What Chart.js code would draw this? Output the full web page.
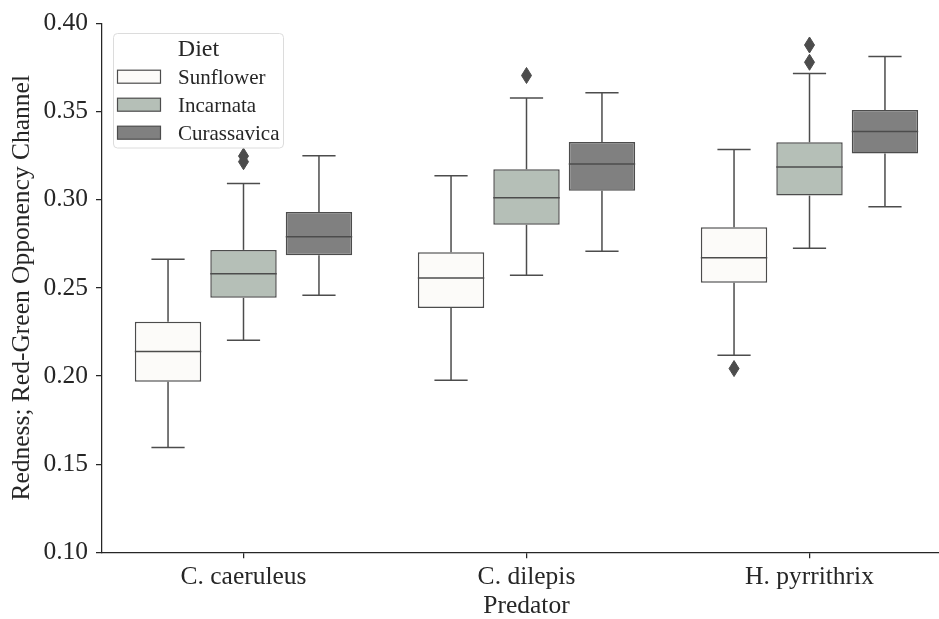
<!DOCTYPE html>
<html>
<head>
<meta charset="utf-8">
<script src="https://cdn.jsdelivr.net/npm/chart.js@4.4.1/dist/chart.umd.min.js"></script>
<style>
  html, body { margin: 0; padding: 0; background: #ffffff; overflow: hidden; }
  #wrap { position: relative; width: 951px; height: 619px; }
</style>
</head>
<body>
<div id="wrap"><canvas id="c" width="951" height="619"></canvas></div>
<script>
// ---- data ----
const categories = ['C. caeruleus', 'C. dilepis', 'H. pyrrithrix'];
const diets = ['Sunflower', 'Incarnata', 'Curassavica'];
const yTicks = [0.10, 0.15, 0.20, 0.25, 0.30, 0.35, 0.40];

const sunflowerLow  = [0.1595, 0.1976, 0.2118];
const sunflowerQ1   = [0.1967, 0.2386, 0.2528];
const sunflowerMed  = [0.2139, 0.2556, 0.2671];
const sunflowerQ3   = [0.2307, 0.2701, 0.2843];
const sunflowerHigh = [0.2662, 0.3136, 0.3285];
const sunflowerOut  = [[], [], [0.2042]];

const incarnataLow  = [0.2203, 0.2571, 0.2724];
const incarnataQ1   = [0.2443, 0.2857, 0.3023];
const incarnataMed  = [0.2579, 0.3011, 0.3185];
const incarnataQ3   = [0.2715, 0.3172, 0.3325];
const incarnataHigh = [0.3091, 0.3576, 0.3716];
const incarnataOut  = [[0.3247, 0.3215], [0.3704], [0.3877, 0.3779]];

const curassavicaLow  = [0.2458, 0.2707, 0.2960];
const curassavicaQ1   = [0.2684, 0.3051, 0.3262];
const curassavicaMed  = [0.2789, 0.3202, 0.3387];
const curassavicaQ3   = [0.2930, 0.3327, 0.3508];
const curassavicaHigh = [0.3249, 0.3606, 0.3812];
const curassavicaOut  = [[], [], []];

// ---- styling ----
const fills = ['#fcfbf9', '#b5bfb7', '#808080'];
const lineGray = '#4c4c4c';
const textColor = '#262626';
const FONT = '"Liberation Serif", "Times New Roman", "DejaVu Serif", serif';

const stats = [
  {low: sunflowerLow, q1: sunflowerQ1, med: sunflowerMed, q3: sunflowerQ3, high: sunflowerHigh, out: sunflowerOut},
  {low: incarnataLow, q1: incarnataQ1, med: incarnataMed, q3: incarnataQ3, high: incarnataHigh, out: incarnataOut},
  {low: curassavicaLow, q1: curassavicaQ1, med: curassavicaMed, q3: curassavicaQ3, high: curassavicaHigh, out: curassavicaOut}
];

const datasets = diets.map((d, di) => ({
  label: d,
  data: categories.map((c, i) => [stats[di].q1[i], stats[di].q3[i]]),
  backgroundColor: fills[di],
  borderColor: lineGray,
  borderWidth: 1.5,
  borderSkipped: false,
  categoryPercentage: 0.8,
  barPercentage: 0.88
}));

function seg(ctx, x1, y1, x2, y2) {
  ctx.beginPath(); ctx.moveTo(x1, y1); ctx.lineTo(x2, y2); ctx.stroke();
}

const boxPlugin = {
  id: 'boxWhiskers',
  afterDatasetsDraw(chart) {
    const ctx = chart.ctx, ys = chart.scales.y;
    ctx.save();
    chart.data.datasets.forEach((ds, di) => {
      const meta = chart.getDatasetMeta(di);
      const s = stats[di];
      meta.data.forEach((bar, i) => {
        const x = bar.x, w = bar.width;
        const pQ1 = ys.getPixelForValue(s.q1[i]);
        const pQ3 = ys.getPixelForValue(s.q3[i]);
        const pLo = ys.getPixelForValue(s.low[i]);
        const pHi = ys.getPixelForValue(s.high[i]);
        const pMed = ys.getPixelForValue(s.med[i]);
        ctx.strokeStyle = lineGray;
        ctx.lineWidth = 1.5;
        seg(ctx, x, pQ3, x, pHi);
        seg(ctx, x, pQ1, x, pLo);
        seg(ctx, x - w / 4, pHi, x + w / 4, pHi);
        seg(ctx, x - w / 4, pLo, x + w / 4, pLo);
        seg(ctx, x - w / 2, pMed, x + w / 2, pMed);
        ctx.fillStyle = lineGray;
        s.out[i].forEach(v => {
          const py = ys.getPixelForValue(v);
          ctx.beginPath();
          ctx.moveTo(x, py - 8);
          ctx.lineTo(x + 5, py);
          ctx.lineTo(x, py + 8);
          ctx.lineTo(x - 5, py);
          ctx.closePath();
          ctx.fill();
          ctx.lineWidth = 1;
          ctx.stroke();
        });
      });
    });
    ctx.restore();
  }
};

const legendPlugin = {
  id: 'diLegend',
  afterDraw(chart) {
    const ctx = chart.ctx;
    ctx.save();
    const bx = 113.5, by = 33.5, bw = 170, bh = 114.5, r = 4;
    ctx.beginPath();
    ctx.moveTo(bx + r, by);
    ctx.lineTo(bx + bw - r, by);
    ctx.arcTo(bx + bw, by, bx + bw, by + r, r);
    ctx.lineTo(bx + bw, by + bh - r);
    ctx.arcTo(bx + bw, by + bh, bx + bw - r, by + bh, r);
    ctx.lineTo(bx + r, by + bh);
    ctx.arcTo(bx, by + bh, bx, by + bh - r, r);
    ctx.lineTo(bx, by + r);
    ctx.arcTo(bx, by, bx + r, by, r);
    ctx.closePath();
    ctx.fillStyle = 'rgba(255,255,255,0.8)';
    ctx.fill();
    ctx.strokeStyle = '#dcdcdc';
    ctx.lineWidth = 1;
    ctx.stroke();

    ctx.fillStyle = textColor;
    ctx.textBaseline = 'alphabetic';
    ctx.textAlign = 'center';
    ctx.font = '24px ' + FONT;
    ctx.fillText('Diet', bx + bw / 2, 56);

    ctx.textAlign = 'left';
    ctx.font = '21px ' + FONT;
    diets.forEach((d, i) => {
      const cy = 76.7 + i * 28;
      ctx.fillStyle = fills[i];
      ctx.fillRect(117.5, cy - 6.5, 43, 13);
      ctx.strokeStyle = lineGray;
      ctx.lineWidth = 1.2;
      ctx.strokeRect(117.5, cy - 6.5, 43, 13);
      ctx.fillStyle = textColor;
      ctx.fillText(d, 178, 84 + i * 28);
    });
    ctx.restore();
  }
};

const chart = new Chart(document.getElementById('c'), {
  type: 'bar',
  data: { labels: categories, datasets: datasets },
  options: {
    responsive: false,
    animation: false,
    devicePixelRatio: 1,
    layout: { padding: { top: 22.7, left: 0, right: 0, bottom: 0 } },
    plugins: { legend: { display: false }, tooltip: { enabled: false } },
    scales: {
      x: {
        type: 'category',
        offset: true,
        grid: { display: true, drawOnChartArea: false, drawTicks: true, tickLength: 6, offset: false, color: textColor, lineWidth: 1.25 },
        border: { display: true, color: textColor, width: 1.25 },
        ticks: { color: textColor, font: { family: FONT, size: 25.5 }, padding: 4, maxRotation: 0 },
        title: { display: true, text: 'Predator', color: textColor, font: { family: FONT, size: 25.5, lineHeight: 1 }, padding: 0 },
        afterFit(scale) { scale.height = 66.7; }
      },
      y: {
        type: 'linear',
        min: 0.10,
        max: 0.40,
        afterBuildTicks(scale) { scale.ticks = yTicks.map(v => ({ value: v })); },
        grid: { display: true, drawOnChartArea: false, drawTicks: true, tickLength: 6, color: textColor, lineWidth: 1.25 },
        border: { display: true, color: textColor, width: 1.25 },
        ticks: { color: textColor, font: { family: FONT, size: 25.5 }, padding: 8, callback: v => Number(v).toFixed(2) },
        title: { display: true, text: 'Redness; Red-Green Opponency Channel', color: textColor, font: { family: FONT, size: 25.5, lineHeight: 1 }, padding: { top: 10, bottom: 0 } },
        afterFit(scale) { scale.width = 102; }
      }
    }
  },
  plugins: [boxPlugin, legendPlugin]
});
</script>
</body>
</html>
